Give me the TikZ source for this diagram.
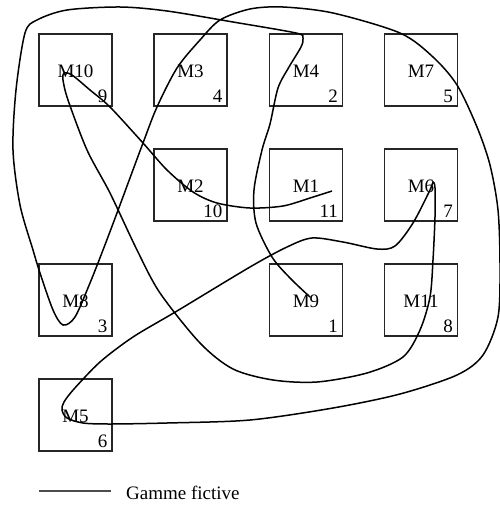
\documentclass[tikz,border=0pt]{standalone}
\usepackage{fontspec}
\setmainfont{Liberation Serif}
\begin{document}
\begin{tikzpicture}[x=1pt,y=-1pt,
  mbox/.style={draw=black!85,line width=1.8pt,minimum width=73pt,minimum height=72pt,inner sep=0pt},
  mlabel/.style={anchor=base,inner sep=0pt,font=\fontsize{19}{22}\selectfont},
  mnum/.style={anchor=base east,inner sep=0pt,font=\fontsize{19}{22}\selectfont},
  gamme/.style={line width=1.5pt,black},
  legline/.style={line width=1.3pt,black!70}]
\useasboundingbox (0,0) rectangle (500,506);
\newcommand\machbox[5]{%
  \node[mbox] (#1) at (#4,#5) {};
  \node[mlabel] (#1lab) at (#4,#5+7) {#2};
  \node[mnum] (#1num) at (#4+32,#5+32.5) {#3};}
\machbox{m10}{M10}{9}{75.5}{70}
\machbox{m3}{M3}{4}{190.5}{70}
\machbox{m4}{M4}{2}{306}{70}
\machbox{m7}{M7}{5}{421}{70}
\machbox{m2}{M2}{10}{190.5}{185}
\machbox{m1}{M1}{11}{306}{185}
\machbox{m6}{M6}{7}{421}{185}
\machbox{m8}{M8}{3}{75.5}{300}
\machbox{m9}{M9}{1}{306}{300}
\machbox{m11}{M11}{8}{421}{300}
\machbox{m5}{M5}{6}{75.5}{415}
\draw[gamme] plot[smooth,tension=0.5] coordinates {
 (310,297) (290,278) (272,257) (256,223) (254,190) (262,150) (270,124)
 (278,88) (289,67) (301,47) (303,38) (296,33)
 (233,22) (167,11) (120,7) (67,10) (37,20) (25,33) (16,90) (13,150)
 (20,205) (33,250) (40,273) (53,310) (63,325) (75,317) (90,283)
 (103,250) (117,213) (143,143) (157,107) (177,68) (200,40) (220,20)
 (250,9) (283,7) (333,13) (400,33) (433,57) (457,85) (477,127) (490,165)
 (498,210) (500,265) (498,317) (483,355) (457,375) (400,394) (333,408)
 (250,420) (167,423) (110,424) (83,423) (67,418) (62,410) (64,402) (74,389)
 (100,362) (133,337) (177,311) (250,267) (287,247) (312,238)
 (343,242) (377,249) (395,246) (413,223) (430,190) (433,182) (435,188)
 (435,217) (433,260) (430,297) (420,330) (403,357) (367,373) (317,382)
 (273,380) (233,369) (200,343) (160,293) (137,250) (110,193) (87,150)
 (68,100) (63,80) (64,73) (72,75) (90,90) (110,107) (143,143) (167,170)
 (193,192) (217,203) (250,208) (283,206) (310,198) (332,191)};
\coordinate (legA) at (39,491);
\coordinate (legB) at (111,491);
\draw[legline] (legA) -- (legB);
\node[anchor=base west,inner sep=0pt,font=\fontsize{19}{22}\selectfont] (legtext) at (126,499) {Gamme fictive};
\end{tikzpicture}
\end{document}
